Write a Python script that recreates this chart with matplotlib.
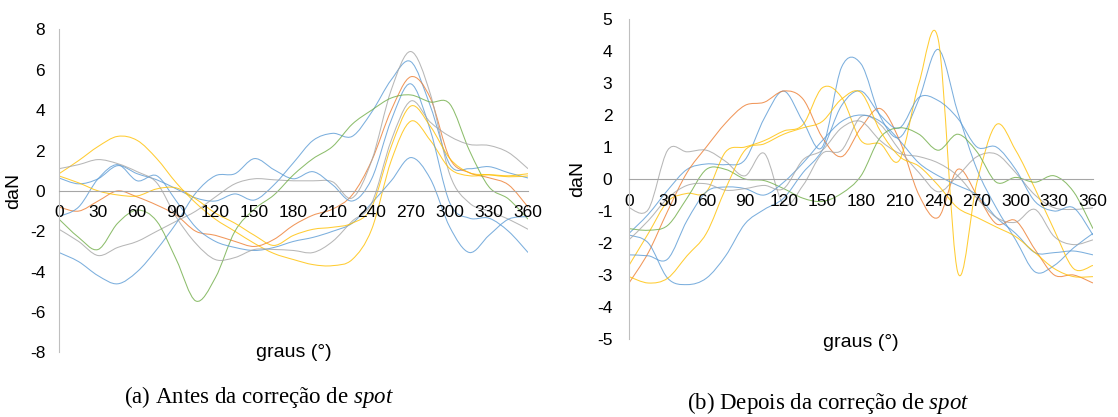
import matplotlib.pyplot as plt
from matplotlib.path import Path
from matplotlib.patches import PathPatch

plt.rcParams["font.family"] = ["Liberation Sans", "DejaVu Sans"]
plt.rcParams["axes.unicode_minus"] = False
plt.rcParams["mathtext.fontset"] = "custom"
plt.rcParams["mathtext.rm"] = "Liberation Serif"
plt.rcParams["mathtext.it"] = "Liberation Serif:italic"

graus = list(range(0, 361, 15))
xticks = list(range(0, 361, 30))

# (a) antes da correção de spot, daN
antes_azul_1 = [0.64, 0.35, 0.6, 1.25, 0.85, 0.55, 0.1, -0.35, -0.5, -0.15, -0.45, 0.3, 1.4,
                2.5, 2.85, 2.7, 3.9, 5.5, 6.4, 4.2, 1.3, 1.1, 1.2, 0.9, 0.64]
antes_laranja = [-0.8, -1.0, -0.5, 0.0, -0.3, -0.7, -1.2, -2.0, -2.2, -2.5, -2.75, -2.4, -1.7,
                 -1.2, -0.9, -0.2, 1.5, 4.0, 5.65, 4.6, 1.6, 0.9, 0.65, 0.3, -0.8]
antes_cinza_1 = [-1.9, -2.5, -3.2, -2.8, -2.5, -2.0, -1.5, -1.0, -0.3, 0.35, 0.6, 0.55, 0.5,
                 0.5, 0.45, -0.35, 1.5, 5.0, 6.9, 4.8, 0.8, -0.6, -1.0, -1.4, -1.9]
antes_amarelo_1 = [0.85, 1.5, 2.2, 2.7, 2.5, 1.6, 0.4, -0.6, -1.4, -2.0, -2.6, -3.1, -3.4,
                   -3.65, -3.7, -3.4, -1.9, 1.5, 3.45, 2.5, 1.1, 0.75, 0.8, 0.75, 0.85]
antes_azul_2 = [-3.05, -3.5, -4.2, -4.6, -4.0, -2.9, -1.6, -0.1, 0.75, 0.85, 1.6, 1.05, 0.6,
                0.95, 0.3, -0.5, 0.6, 3.5, 5.3, 3.0, -0.6, -1.35, -1.35, -2.0, -3.05]
antes_verde = [-1.4, -2.3, -2.9, -1.6, -0.95, -1.5, -3.4, -5.45, -4.3, -2.0, -0.9, -0.2, 0.8,
               1.6, 2.2, 3.3, 4.0, 4.6, 4.75, 4.4, 4.3, 2.0, 0.2, -0.4, -1.4]
antes_azul_3 = [-1.27, -0.8, 0.6, 1.3, 0.5, 0.75, -0.5, -1.8, -2.5, -2.8, -2.95, -2.8, -2.5,
                -2.3, -2.0, -1.6, -0.6, 0.5, 1.65, 0.6, -1.8, -3.05, -2.2, -1.4, -1.27]
antes_cinza_2 = [1.1, 1.3, 1.55, 1.35, 0.95, 0.4, -1.3, -2.6, -3.4, -3.3, -2.9, -2.9, -2.95,
                 -3.05, -2.5, -1.5, -0.6, 2.5, 4.45, 3.4, 2.7, 2.3, 2.25, 1.9, 1.1]
antes_amarelo_2 = [0.74, 0.4, 0.0, -0.2, -0.25, 0.1, 0.15, -0.4, -1.1, -1.6, -2.2, -2.7, -2.2,
                   -1.9, -1.8, -1.6, -0.8, 2.2, 4.2, 3.2, 1.6, 0.9, 0.8, 0.7, 0.74]

# (b) depois da correção de spot, daN
depois_azul_1 = [-1.7, -1.1, -0.35, 0.3, 0.47, 0.45, 0.6, 1.9, 2.75, 1.8, 1.0, 3.5, 3.6,
                 1.95, 1.3, 2.5, 4.05, 2.1, 0.3, -0.9, -1.9, -2.9, -2.7, -2.15, -1.7]
depois_laranja = [-3.25, -2.3, -1.0, 0.2, 1.0, 1.75, 2.3, 2.4, 2.75, 2.5, 1.3, 0.7, 1.6,
                  2.2, 1.2, -0.5, -1.2, 0.3, -0.5, -1.4, -1.3, -2.2, -3.0, -3.0, -3.25]
depois_cinza_1 = [-0.9, -0.95, 0.9, 0.85, 0.9, 0.55, 0.1, 0.8, -0.8, -0.2, 0.8, 0.9, 1.95,
                  1.7, 0.9, 0.2, -0.4, 0.1, 0.7, 0.78, 0.2, -0.5, -0.9, -0.95, -0.9]
depois_amarelo_1 = [-2.7, -1.7, -0.7, -0.45, -0.4, 0.85, 1.0, 1.2, 1.5, 1.7, 2.85, 2.55, 1.2,
                    1.1, 0.6, 3.0, 4.35, -2.9, -0.1, 1.7, 0.9, -0.3, -1.6, -2.8, -2.7]
depois_azul_2 = [-1.75, -2.0, -3.1, -3.3, -3.1, -2.4, -1.4, -0.95, -0.6, 0.2, 0.9, 2.3, 2.75,
                 2.0, 1.6, 2.55, 2.45, 1.9, 1.0, 1.0, 0.3, -0.7, -1.0, -0.9, -1.75]
depois_verde = [-1.55, -1.6, -1.45, -0.6, 0.3, 0.3, 0.0, -0.05, -0.3, -0.6, -0.7, -0.45, 0.1,
                1.3, 1.6, 1.4, 0.9, 1.4, 0.85, -0.1, 0.05, -0.1, 0.1, -0.4, -1.55]
depois_azul_3 = [-2.37, -2.4, -2.5, -1.3, -0.4, -0.25, -0.3, -0.5, -0.1, 0.5, 1.2, 1.8, 2.0,
                 1.8, 1.2, 0.5, 0.1, -0.2, -0.5, -1.2, -1.7, -2.3, -2.3, -2.25, -2.37]
depois_cinza_2 = [-1.9, -1.3, -0.6, -0.2, -0.15, -0.35, -0.3, -0.2, -0.3, 0.6, 0.9, 1.6, 1.8,
                  1.2, 0.8, 0.7, 0.5, 0.1, -0.6, -1.2, -1.35, -0.95, -1.8, -2.05, -1.9]
depois_amarelo_2 = [-3.05, -3.25, -3.1, -2.4, -1.7, -0.3, 0.9, 1.1, 1.4, 1.6, 1.8, 2.5, 2.7,
                    1.5, 0.7, 0.4, -0.2, -0.9, -1.2, -1.5, -1.8, -2.3, -2.8, -3.05, -3.05]

AZUL = "#5B9BD5"
LARANJA = "#ED7D31"
CINZA = "#A5A5A5"
AMARELO = "#FFC000"
VERDE = "#70AD47"


def curva(ax, x, y, cor):
    # linha suavizada (Catmull-Rom em Bezier cúbica), como no Excel
    pts = list(zip(x, y))
    n = len(pts)
    verts = [pts[0]]
    codes = [Path.MOVETO]
    for i in range(n - 1):
        p0 = pts[max(i - 1, 0)]
        p1 = pts[i]
        p2 = pts[i + 1]
        p3 = pts[min(i + 2, n - 1)]
        c1 = (p1[0] + (p2[0] - p0[0]) / 6, p1[1] + (p2[1] - p0[1]) / 6)
        c2 = (p2[0] - (p3[0] - p1[0]) / 6, p2[1] - (p3[1] - p1[1]) / 6)
        verts += [c1, c2, p2]
        codes += [Path.CURVE4] * 3
    ax.add_patch(PathPatch(Path(verts, codes), fill=False, edgecolor=cor,
                           lw=0.75, alpha=0.8))


def grafico(ax, series, ylim, yticks, xpad, ypad):
    for valores, cor in series:
        curva(ax, graus, valores, cor)
    ax.set_xlim(0, 360)
    ax.set_ylim(*ylim)
    ax.set_xticks(xticks)
    ax.set_yticks(yticks)
    for lado in ("top", "right"):
        ax.spines[lado].set_visible(False)
    ax.spines["left"].set_color("#BFBFBF")
    ax.spines["bottom"].set_position(("data", 0))
    ax.spines["bottom"].set_color("#A6A6A6")
    ax.tick_params(axis="x", length=0, pad=xpad, labelsize=12.5)
    ax.tick_params(axis="y", length=0, pad=ypad, labelsize=12.5)
    ax.set_ylabel("daN", fontsize=14)
    ax.set_xlabel("graus (°)", fontsize=14)


fig = plt.figure(figsize=(11.18, 4.17), dpi=100)
ax1 = fig.add_axes([0.0528, 0.1547, 0.4195, 0.775])
ax2 = fig.add_axes([0.5626, 0.187, 0.415, 0.7674])

grafico(ax1, [(antes_azul_1, AZUL), (antes_laranja, LARANJA), (antes_cinza_1, CINZA),
              (antes_amarelo_1, AMARELO), (antes_azul_2, AZUL), (antes_verde, VERDE),
              (antes_azul_3, AZUL), (antes_cinza_2, CINZA), (antes_amarelo_2, AMARELO)],
        (-8, 8), range(-8, 9, 2), 10, 10)
grafico(ax2, [(depois_azul_1, AZUL), (depois_laranja, LARANJA), (depois_cinza_1, CINZA),
              (depois_amarelo_1, AMARELO), (depois_azul_2, AZUL), (depois_verde, VERDE),
              (depois_azul_3, AZUL), (depois_cinza_2, CINZA), (depois_amarelo_2, AMARELO)],
        (-5, 5), range(-5, 6), 11, 12)

ax1.yaxis.set_label_coords(-0.079, 0.5)
ax1.xaxis.set_label_coords(0.5, 0.0)
ax1.xaxis.label.set_va("center")
ax2.yaxis.set_label_coords(-0.092, 0.5)
ax2.xaxis.set_label_coords(0.5, -0.01)
ax2.xaxis.label.set_va("center")

fig.text(0.232, 0.048, "(a) Antes da correção de $\\it{spot}$", ha="center", va="center",
         family="Liberation Serif", fontsize=16.5)
fig.text(0.741, 0.034, "(b) Depois da correção de $\\it{spot}$", ha="center", va="center",
         family="Liberation Serif", fontsize=16.5)

fig.savefig("out.png", dpi=100)
